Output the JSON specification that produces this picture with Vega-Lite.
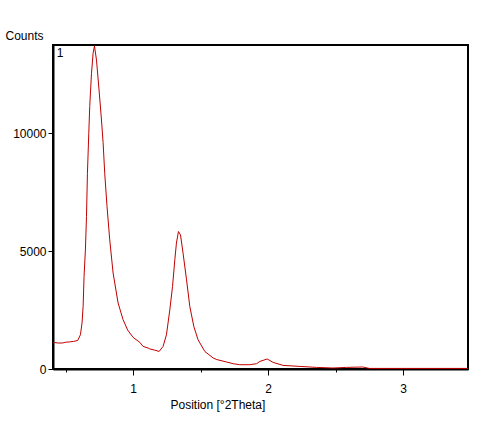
{
  "$schema": "https://vega.github.io/schema/vega-lite/v6.json",
  "width": 415,
  "height": 324,
  "autosize": {"type": "none"},
  "padding": {"left": 53, "top": 45, "right": 24, "bottom": 63},
  "background": "white",
  "config": {
    "view": {"stroke": "black", "strokeWidth": 2},
    "font": "Liberation Sans",
    "axis": {"grid": false, "domainColor": "black", "domainWidth": 2, "tickColor": "black", "labelColor": "black", "titleColor": "black", "labelFontSize": 12, "titleFontSize": 12, "titleFontWeight": "normal", "labelFont": "Liberation Sans", "titleFont": "Liberation Sans"}
  },
  "layer": [
    {
      "data": {"values": [
        {"pos": 0.407, "counts": 1110},
        {"pos": 0.42, "counts": 1120},
        {"pos": 0.45, "counts": 1100},
        {"pos": 0.48, "counts": 1105},
        {"pos": 0.50, "counts": 1135},
        {"pos": 0.53, "counts": 1150},
        {"pos": 0.56, "counts": 1170},
        {"pos": 0.59, "counts": 1210},
        {"pos": 0.61, "counts": 1450},
        {"pos": 0.622, "counts": 1950},
        {"pos": 0.630, "counts": 2650},
        {"pos": 0.637, "counts": 3920},
        {"pos": 0.647, "counts": 5050},
        {"pos": 0.655, "counts": 6470},
        {"pos": 0.662, "counts": 8300},
        {"pos": 0.672, "counts": 10000},
        {"pos": 0.679, "counts": 11130},
        {"pos": 0.692, "counts": 12540},
        {"pos": 0.704, "counts": 13390},
        {"pos": 0.714, "counts": 13700},
        {"pos": 0.729, "counts": 13100},
        {"pos": 0.748, "counts": 11830},
        {"pos": 0.766, "counts": 10560},
        {"pos": 0.778, "counts": 9600},
        {"pos": 0.790, "counts": 8300},
        {"pos": 0.807, "counts": 6890},
        {"pos": 0.827, "counts": 5480},
        {"pos": 0.852, "counts": 4070},
        {"pos": 0.889, "counts": 2800},
        {"pos": 0.926, "counts": 2090},
        {"pos": 0.96, "counts": 1650},
        {"pos": 1.0, "counts": 1340},
        {"pos": 1.05, "counts": 1130},
        {"pos": 1.074, "counts": 960},
        {"pos": 1.111, "counts": 890},
        {"pos": 1.124, "counts": 850},
        {"pos": 1.16, "counts": 800},
        {"pos": 1.193, "counts": 746},
        {"pos": 1.222, "counts": 958},
        {"pos": 1.247, "counts": 1450},
        {"pos": 1.272, "counts": 2510},
        {"pos": 1.292, "counts": 3500},
        {"pos": 1.309, "counts": 4630},
        {"pos": 1.321, "counts": 5340},
        {"pos": 1.336, "counts": 5830},
        {"pos": 1.351, "counts": 5690},
        {"pos": 1.370, "counts": 4915},
        {"pos": 1.396, "counts": 3780},
        {"pos": 1.42, "counts": 2650},
        {"pos": 1.450, "counts": 1800},
        {"pos": 1.481, "counts": 1240},
        {"pos": 1.531, "counts": 746},
        {"pos": 1.593, "counts": 466},
        {"pos": 1.62, "counts": 400},
        {"pos": 1.69, "counts": 300},
        {"pos": 1.741, "counts": 225},
        {"pos": 1.790, "counts": 182},
        {"pos": 1.864, "counts": 182},
        {"pos": 1.914, "counts": 225},
        {"pos": 1.939, "counts": 322},
        {"pos": 1.993, "counts": 424},
        {"pos": 2.037, "counts": 280},
        {"pos": 2.111, "counts": 153},
        {"pos": 2.235, "counts": 110},
        {"pos": 2.358, "counts": 68},
        {"pos": 2.48, "counts": 42},
        {"pos": 2.58, "counts": 68},
        {"pos": 2.70, "counts": 85},
        {"pos": 2.75, "counts": 25},
        {"pos": 3.0, "counts": 25},
        {"pos": 3.48, "counts": 25}
      ]},
      "mark": {"type": "line", "color": "#c00000", "strokeWidth": 1, "clip": true},
      "encoding": {
        "x": {"field": "pos", "type": "quantitative",
          "scale": {"domain": [0.407, 3.48], "nice": false, "zero": false},
          "axis": {"values": [0.5, 1, 1.5, 2, 2.5, 3], "labelExpr": "datum.value % 1 === 0 ? format(datum.value, 'd') : ''",
            "tickSize": {"condition": {"test": "datum.value % 1 !== 0", "value": 3}, "value": 6},
            "labelPadding": 8, "title": "Position [°2Theta]", "titleAnchor": "start", "titleAlign": "left", "titleX": 117, "titleY": 30}},
        "y": {"field": "counts", "type": "quantitative",
          "scale": {"domain": [0, 13740], "nice": false},
          "axis": {"values": [0, 5000, 10000], "format": "d", "tickSize": 5, "labelPadding": 2,
            "title": "Counts", "titleAngle": 0, "titleAlign": "left", "titleBaseline": "middle", "titleX": -48, "titleY": -10}}
      }
    },
    {
      "data": {"values": [{"label": "1"}]},
      "mark": {"type": "text", "align": "left", "baseline": "middle", "fontSize": 12, "fontWeight": "normal", "color": "black", "font": "Liberation Sans"},
      "encoding": {
        "x": {"datum": 0.435, "type": "quantitative"},
        "y": {"datum": 13400, "type": "quantitative"},
        "text": {"field": "label"}
      }
    }
  ]
}
